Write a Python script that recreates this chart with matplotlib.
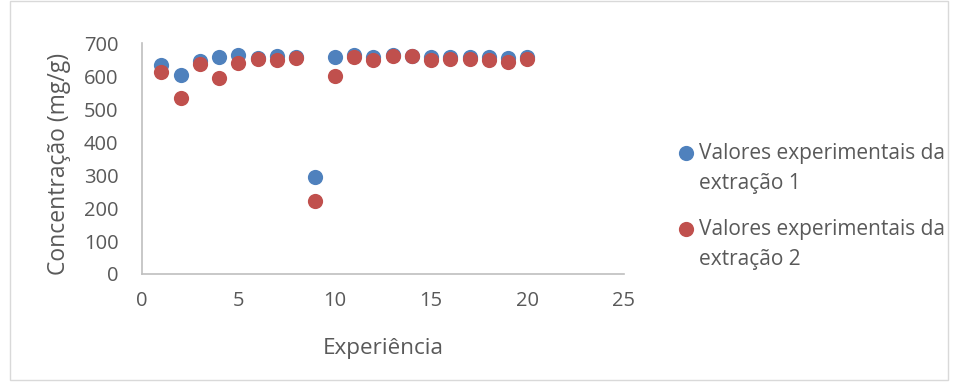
import matplotlib
matplotlib.use("Agg")
import numpy as np
import matplotlib.pyplot as plt
from matplotlib.patches import Rectangle
from matplotlib.legend_handler import HandlerPathCollection

plt.rcParams['font.family'] = ['Open Sans', 'DejaVu Sans']

experiencia = list(range(1, 21))
extracao1 = [633, 603, 645, 658, 664, 655, 661, 657, 295, 658,
             664, 657, 663, 661, 658, 658, 658, 658, 655, 658]
extracao2 = [613, 534, 636, 594, 640, 653, 648, 655, 222, 600,
             658, 648, 660, 660, 648, 651, 653, 650, 643, 651]
label1 = "Valores experimentais da\nextração 1"
label2 = "Valores experimentais da\nextração 2"

blue = "#4F81BD"
red = "#C0504D"
text_col = "#595959"
axis_col = "#BFBFBF"


class ShiftedHandler(HandlerPathCollection):
    def __init__(self, dy, **kw):
        super().__init__(**kw)
        self.dy = dy

    def get_ydata(self, legend, xdescent, ydescent, width, height, fontsize):
        return np.asarray(super().get_ydata(legend, xdescent, ydescent, width,
                                            height, fontsize)) + self.dy


fig = plt.figure(figsize=(9.56, 3.83), dpi=100)
ax = fig.add_axes([0.1485, 0.2846, 0.504, 0.603])

sc1 = ax.scatter(experiencia, extracao1, s=120, color=blue, label=label1, zorder=3, linewidths=0)
sc2 = ax.scatter(experiencia, extracao2, s=120, color=red, label=label2, zorder=4, linewidths=0)

ax.set_xlim(0, 25)
ax.set_ylim(0, 700)
ax.set_xticks([0, 5, 10, 15, 20, 25])
ax.set_yticks(range(0, 701, 100))
ax.tick_params(axis='both', length=0, labelsize=14.5, colors=text_col)
ax.tick_params(axis='x', pad=12)
ax.tick_params(axis='y', pad=17)
for s in ['top', 'right']:
    ax.spines[s].set_visible(False)
for s in ['left', 'bottom']:
    ax.spines[s].set_color(axis_col)
    ax.spines[s].set_linewidth(1.2)

ax.set_xlabel("Experiência", fontsize=16.2, color=text_col, labelpad=20)
ax.set_ylabel("Concentração (mg/g)", fontsize=16.5, color=text_col)
ax.yaxis.set_label_coords(-0.147, 0.476)

h = ShiftedHandler(13.0)
leg = fig.legend(handles=[sc1, sc2], loc='upper left', bbox_to_anchor=(0.687, 0.648),
                 frameon=False, fontsize=15, handletextpad=-0.35, labelspacing=1.2,
                 labelcolor=text_col, borderaxespad=0,
                 handler_map={sc1: h, sc2: h})
for t in leg.get_texts():
    t.set_linespacing(1.55)

fig.patches.append(Rectangle((0.010, 0.008), 0.982, 0.99, transform=fig.transFigure,
                             fill=False, edgecolor="#D9D9D9", linewidth=1))

fig.savefig("out.png", dpi=100)
